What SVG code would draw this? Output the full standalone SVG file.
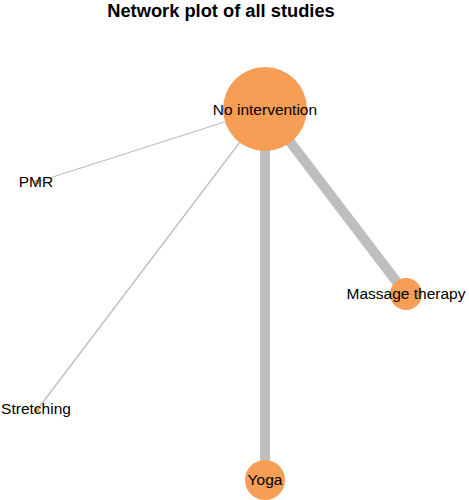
<svg xmlns="http://www.w3.org/2000/svg" width="469" height="500" viewBox="0 0 469 500">
<style>
.edge{stroke:#BEBEBE;fill:none;stroke-linecap:butt}
.node{fill:#F69D56}
.lbl{font-family:"Liberation Sans",Arial,sans-serif;font-size:15.5px;fill:#000;text-anchor:middle}
.title{font-family:"Liberation Sans",Arial,sans-serif;font-size:18.3px;font-weight:bold;fill:#000;text-anchor:middle}
</style>
<rect width="469" height="500" fill="#fff"/>
<text class="title" x="221" y="17">Network plot of all studies</text>
<g id="connectors">
<line class="edge" x1="265" y1="109" x2="37" y2="182" stroke-width="1.3"/>
<line class="edge" x1="265" y1="109" x2="37" y2="410" stroke-width="1.3"/>
<line class="edge" x1="265" y1="109" x2="265" y2="480" stroke-width="10"/>
<line class="edge" x1="265" y1="109" x2="406" y2="294" stroke-width="10"/>
</g>
<g id="node-no-intervention">
<circle class="node" cx="265" cy="109" r="42"/>
<text class="lbl" x="265" y="115">No intervention</text>
</g>
<g id="node-pmr">
<circle class="node" cx="37" cy="182" r="2.5"/>
<text class="lbl" x="36" y="187">PMR</text>
</g>
<g id="node-stretching">
<circle class="node" cx="37" cy="410" r="2.5"/>
<text class="lbl" x="36" y="414">Stretching</text>
</g>
<g id="node-massage">
<circle class="node" cx="406" cy="294" r="16"/>
<text class="lbl" x="406" y="299">Massage therapy</text>
</g>
<g id="node-yoga">
<circle class="node" cx="265" cy="480" r="20"/>
<text class="lbl" x="265" y="485">Yoga</text>
</g>
</svg>
